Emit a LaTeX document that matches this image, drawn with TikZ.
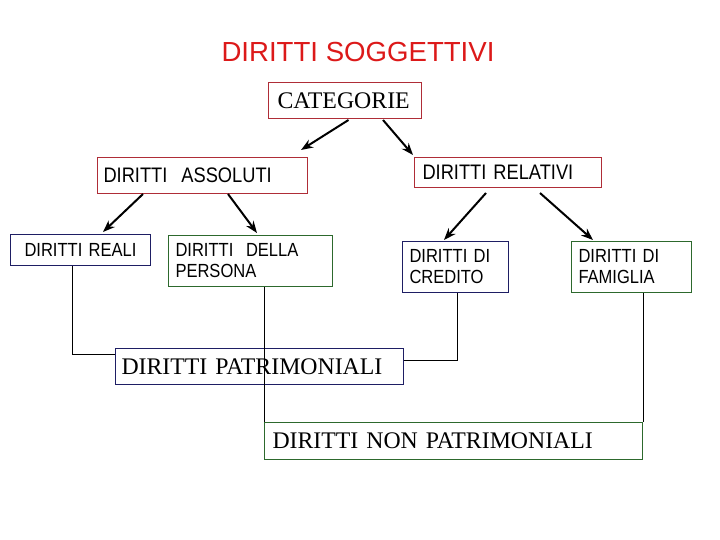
\documentclass[tikz,border=0pt]{standalone}
\usepackage{fontspec}
\setmainfont{Liberation Serif}
\setsansfont{Liberation Sans}
\newfontfamily\narrowsans[FakeStretch=0.87]{Liberation Sans}
\usetikzlibrary{calc,arrows.meta}
\definecolor{boxred}{RGB}{175,45,55}
\definecolor{boxblue}{RGB}{30,30,100}
\definecolor{boxgreen}{RGB}{45,105,45}
\definecolor{titlered}{RGB}{220,25,25}
\tikzset{
  box/.style={draw, line width=1pt, anchor=north west, align=left, inner ysep=0pt, inner xsep=0pt},
  serifbox/.style={box, font=\fontsize{23.8}{26}\selectfont\rmfamily},
  bigsans/.style={box, font=\fontsize{21}{22}\selectfont\narrowsans},
  smallsans/.style={box, font=\fontsize{19}{21}\selectfont\narrowsans},
  arr/.style={-{Stealth[length=12pt,width=9pt]}, line width=2pt, black},
  link/.style={line width=0.8pt, black}
}
\begin{document}
\begin{tikzpicture}[x=1pt,y=-1pt]
\useasboundingbox (0,0) rectangle (720,540);

\node[font=\fontsize{27.6}{30}\selectfont\sffamily, text=titlered, inner sep=0pt] (title) at (358,52) {DIRITTI SOGGETTIVI};

\node[serifbox, draw=boxred, minimum width=153, minimum height=36, text width=153] (cat) at (268,82) {\hspace*{9pt}CATEGORIE};

\node[bigsans, draw=boxred, minimum width=210, minimum height=36, text width=210] (ass) at (97,157) {\hspace*{6pt}DIRITTI\ \ ASSOLUTI};
\node[bigsans, draw=boxred, minimum width=187, minimum height=30, text width=187] (rel) at (414,157) {\hspace*{8pt}DIRITTI RELATIVI};

\node[smallsans, draw=boxblue, minimum width=140, minimum height=31, text width=140, align=center] (reali) at (10,234) {DIRITTI REALI};
\node[smallsans, draw=boxgreen, minimum width=164, minimum height=51, text width=164] (persona) at (168,235) {\hspace*{7pt}DIRITTI\ \ DELLA\\\hspace*{7pt}PERSONA};
\node[smallsans, draw=boxblue, minimum width=106, minimum height=51, text width=106] (credito) at (402,241) {\hspace*{7pt}DIRITTI DI\\\hspace*{7pt}CREDITO};
\node[smallsans, draw=boxgreen, minimum width=120, minimum height=51, text width=120] (famiglia) at (571,241) {\hspace*{7pt}DIRITTI DI\\\hspace*{7pt}FAMIGLIA};

\node[serifbox, draw=boxblue, minimum width=288, minimum height=36, text width=288] (patr) at (115,348) {\hspace*{6pt}DIRITTI PATRIMONIALI};
\node[serifbox, draw=boxgreen, minimum width=378, minimum height=37, text width=378] (nonpatr) at (264,422) {\hspace*{8pt}DIRITTI NON PATRIMONIALI};

% arrows
\draw[arr] ($(cat.south)+(3.5,1)$) -- ($(ass.north east)+(-7,-7)$);
\draw[arr] ($(cat.south)+(38,1)$) -- ($(rel.north west)+(-1,-2)$);
\draw[arr] ($(ass.south west)+(46,0)$) -- ($(reali.north west)+(93,-2)$);
\draw[arr] ($(ass.south west)+(131,0)$) -- ($(persona.north west)+(89,-2)$);
\draw[arr] ($(rel.south west)+(72,5)$) -- ($(credito.north west)+(42,-1)$);
\draw[arr] ($(rel.south west)+(126,5)$) -- ($(famiglia.north west)+(22,-1)$);

% links
\draw[link] ($(reali.south west)+(62,0)$) |- ($(patr.north west)+(0,6)$);
\draw[link] ($(credito.south west)+(55,0)$) |- ($(patr.north east)+(0,12)$);
\draw[link] ($(persona.south west)+(96,0)$) -- (nonpatr.north west);
\draw[link] ($(famiglia.south east)+(-49,0)$) -- (nonpatr.north east);
\end{tikzpicture}
\end{document}
